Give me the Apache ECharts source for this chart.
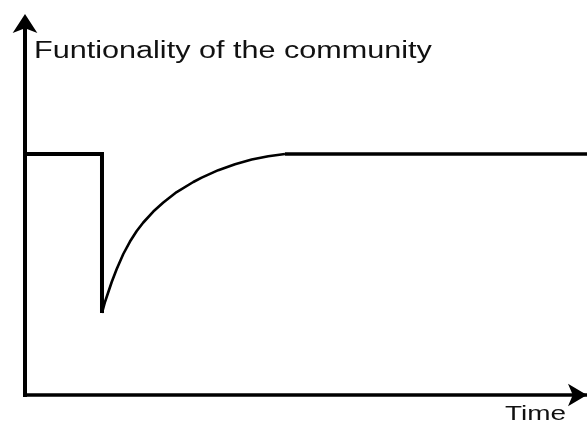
<!DOCTYPE html>
<html>
<head>
<meta charset="utf-8">
<script src="https://cdn.jsdelivr.net/npm/echarts@6/dist/echarts.min.js"></script>
<style>
html,body{margin:0;padding:0;background:#fff;}
#chart{width:587px;height:423px;}
</style>
</head>
<body>
<div id="chart"></div>
<script>
// Values (time 0..100, functionality 0..100)
var yTitle = 'Funtionality of the community';
var xTitle = 'Time';
var normalLevel = 64.27;
var shockTime = 13.70;
var shockLevel = 21.87;
var recoveryTime = [13.70, 14.23, 15.43, 16.32, 17.49, 18.68, 19.88, 21.05, 22.83, 24.61, 26.99, 29.95, 31.44, 34.39, 37.37, 40.34, 43.29, 46.26];
var recoveryValue = [21.87, 24.80, 30.13, 33.60, 37.60, 40.93, 43.73, 46.00, 48.93, 51.33, 54.13, 56.80, 57.95, 59.95, 61.55, 62.80, 63.68, 64.27];
var endTime = 100;

var stepData = [[0, normalLevel], [shockTime, normalLevel], [shockTime, shockLevel]];
var curveData = recoveryTime.map(function (t, i) { return [t, recoveryValue[i]]; });
var flatData = [[recoveryTime[recoveryTime.length - 1], normalLevel], [endTime, normalLevel]];

var chart = echarts.init(document.getElementById('chart'), null, {renderer: 'canvas'});
chart.setOption({
  backgroundColor: '#ffffff',
  animation: false,
  grid: {left: 25, right: 0, top: 20, bottom: 28, containLabel: false},
  xAxis: {
    type: 'value', min: 0, max: 100,
    axisLine: {show: true, symbol: ['none', 'arrow'], symbolSize: [17, 19], symbolOffset: [0, 0],
      lineStyle: {color: '#000', width: 3.6, cap: 'square'}},
    axisTick: {show: false}, axisLabel: {show: false}, splitLine: {show: false}
  },
  yAxis: {
    type: 'value', min: 0, max: 100,
    axisLine: {show: true, symbol: ['none', 'arrow'], symbolSize: [18.5, 19], symbolOffset: [0, 6],
      lineStyle: {color: '#000', width: 4, cap: 'square'}},
    axisTick: {show: false}, axisLabel: {show: false}, splitLine: {show: false}
  },
  series: [
    {type: 'line', data: stepData, symbol: 'none', lineStyle: {color: '#000', width: 4, join: 'miter'}, z: 3},
    {type: 'line', data: curveData, symbol: 'none', smooth: false, lineStyle: {color: '#000', width: 2.6, join: 'round'}, z: 3},
    {type: 'line', data: flatData, symbol: 'none', lineStyle: {color: '#000', width: 3.4}, z: 3}
  ],
  graphic: [
    {type: 'text', x: 34, y: 51.5, scaleX: 1.33, scaleY: 1,
      style: {text: yTitle, font: '23px "Liberation Sans", Arial, sans-serif', fill: '#111',
        align: 'left', verticalAlign: 'middle', textAlign: 'left', textVerticalAlign: 'middle'}},
    {type: 'text', x: 505, y: 414.5, scaleX: 1.33, scaleY: 1,
      style: {text: xTitle, font: '21px "Liberation Sans", Arial, sans-serif', fill: '#111',
        align: 'left', verticalAlign: 'middle', textAlign: 'left', textVerticalAlign: 'middle'}}
  ]
});
</script>
</body>
</html>
